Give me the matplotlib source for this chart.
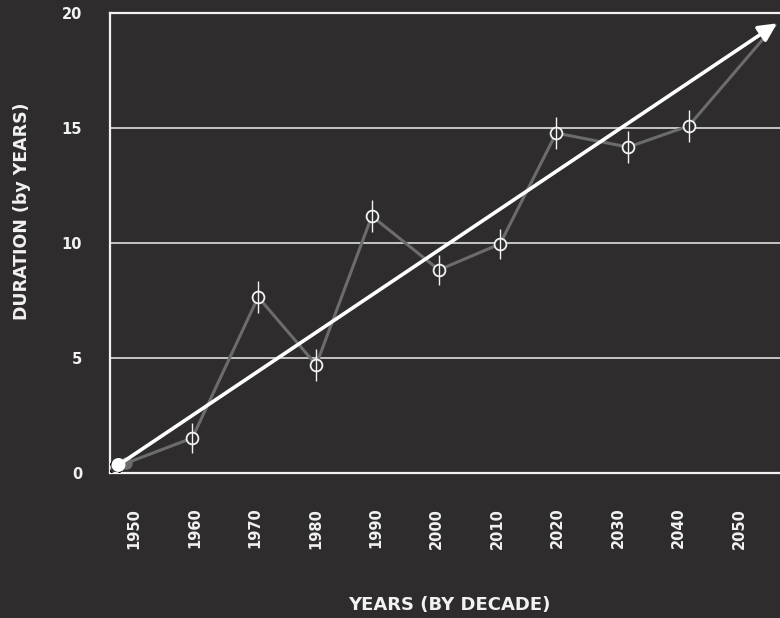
import matplotlib
matplotlib.use("Agg")
import matplotlib.pyplot as plt
import matplotlib.patheffects as pe

# decade readings (duration in years) with their error
years = [1959.6, 1970.5, 1980.1, 1989.3, 2000.4, 2010.5, 2019.8, 2031.7, 2041.7]
durations = [1.52, 7.65, 4.70, 11.17, 8.83, 9.96, 14.78, 14.17, 15.09]
errors = [0.65, 0.68, 0.68, 0.68, 0.65, 0.65, 0.68, 0.70, 0.70]

# path of the series: starts near the origin and runs to the projection
line_start = (1948.6, 0.42)
line_end = (2056.0, 19.48)

# trend arrow
trend_start = (1947.4, 0.35)
trend_end = (2056.3, 19.55)

decade_ticks = list(range(1950, 2060, 10))
duration_ticks = [0, 5, 10, 15, 20]
grid_levels = [5, 10, 15]

BG = "#2e2c2d"
FG = "#f2f2f2"
GRAY = "#6c6c6c"

plt.rcParams["font.family"] = ["DejaVu Sans"]
plt.rcParams["font.weight"] = "bold"

fig = plt.figure(figsize=(7.8, 6.18), dpi=100, facecolor=BG)
ax = fig.add_axes([110 / 780, 1 - 473 / 618, 1 - 110 / 780, 460 / 618])
ax.set_facecolor(BG)

ax.set_xlim(1946.0, 2056.8)
ax.set_ylim(0, 20)

for lvl in grid_levels:
    ax.axhline(lvl, color=FG, lw=1.2, alpha=0.9, zorder=1)

# gray series line
xs = [line_start[0]] + years + [line_end[0]]
ys = [line_start[1]] + durations + [line_end[1]]
ax.plot(xs, ys, color=GRAY, lw=2.2, zorder=2, solid_capstyle="round")
ax.plot([line_start[0]], [line_start[1]], "o", color=GRAY, ms=8, zorder=2)

# open circle markers + error bars
ax.plot(years, durations, "o", ms=8.5, mfc=BG, mec=FG, mew=1.3, zorder=3)
ax.errorbar(years, durations, yerr=errors, fmt="none", ecolor=FG,
            elinewidth=1.0, capsize=0, zorder=4)

# trend arrow with dot at its start
ax.annotate("", xy=trend_end, xytext=trend_start,
            arrowprops=dict(arrowstyle="-|>", color="white", lw=2.6,
                            mutation_scale=27, shrinkA=0, shrinkB=0),
            zorder=5, annotation_clip=False)
ax.plot([trend_start[0]], [trend_start[1]], "o", color="white", ms=9, zorder=6,
        path_effects=[pe.SimpleLineShadow(offset=(-2, -2), shadow_color="black", alpha=1.0),
                      pe.Normal()])

# spines
for side in ["left", "top", "bottom"]:
    ax.spines[side].set_color(FG)
    ax.spines[side].set_linewidth(1.6)
ax.spines["right"].set_visible(False)

ax.set_xticks(decade_ticks)
ax.set_xticklabels([str(y) for y in decade_ticks], rotation=90,
                   fontsize=10.5, fontweight="bold", color=FG)
ax.set_yticks(duration_ticks)
ax.set_yticklabels([str(v) for v in duration_ticks],
                   fontsize=10.5, fontweight="bold", color=FG)
ax.tick_params(axis="x", length=0, pad=25)
ax.tick_params(axis="y", length=0, pad=20)

fig.text(22 / 780, 1 - 211 / 618, "DURATION (by YEARS)", rotation=90,
         ha="center", va="center", fontsize=12.5, fontweight="bold", color=FG)
fig.text(449 / 780, 1 - 605 / 618, "YEARS (BY DECADE)",
         ha="center", va="center", fontsize=13, fontweight="bold", color=FG)

fig.savefig("out.png", dpi=100, facecolor=BG)
